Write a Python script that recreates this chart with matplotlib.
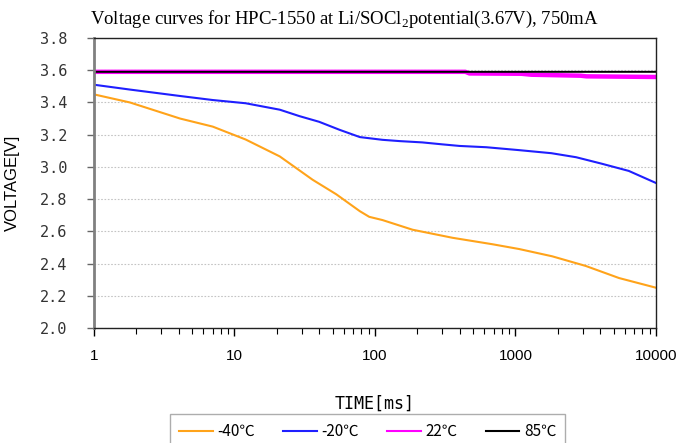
import matplotlib
matplotlib.use("Agg")
import matplotlib.pyplot as plt
from matplotlib.ticker import LogLocator, FixedLocator, NullFormatter

plt.rcParams["mathtext.fontset"] = "custom"
plt.rcParams["mathtext.rm"] = "Liberation Serif"

# --- data ---
t_m40 = [1, 1.8, 4.1, 7, 12, 21, 36, 53, 78, 91, 113, 185, 356, 684, 1064, 1825, 3165, 5460, 10000]
v_m40 = [3.45, 3.40, 3.30, 3.25, 3.17, 3.065, 2.92, 2.83, 2.725, 2.69, 2.67, 2.61, 2.56, 2.52, 2.49,
         2.445, 2.385, 2.31, 2.25]

t_m20 = [1, 1.8, 4.1, 7, 12, 21, 29, 40, 56, 78, 113, 150, 217, 300, 400, 620, 1060, 1800, 2700,
         4100, 6400, 10000]
v_m20 = [3.51, 3.48, 3.44, 3.415, 3.395, 3.355, 3.315, 3.28, 3.23, 3.185, 3.168, 3.16, 3.152, 3.14,
         3.13, 3.122, 3.104, 3.085, 3.06, 3.02, 2.975, 2.90]

t_22 = [1, 440, 470, 1100, 1300, 2900, 3200, 10000]
v_22 = [3.59, 3.59, 3.58, 3.578, 3.572, 3.566, 3.562, 3.558]

t_85 = [1, 10000]
v_85 = [3.59, 3.59]

labels = ["-40℃", "-20℃", "22℃", "85℃"]
y_ticks = [2.0, 2.2, 2.4, 2.6, 2.8, 3.0, 3.2, 3.4, 3.6, 3.8]
x_ticks = [1, 10, 100, 1000, 10000]

# --- figure ---
fig = plt.figure(figsize=(6.8, 4.43), dpi=100)
ax = fig.add_axes([94 / 680, 1 - 328 / 443, (656 - 94) / 680, (328 - 38) / 443])

ax.plot(t_m40, v_m40, color="#FFA31A", lw=1.5, label=labels[0])
ax.plot(t_m20, v_m20, color="#1F1FFF", lw=1.5, label=labels[1])
ax.plot(t_22, v_22, color="#FF00FF", lw=3.2, label=labels[2], snap=False)
ax.plot(t_85, v_85, color="black", lw=1.4, label=labels[3], snap=False)

ax.set_xscale("log")
ax.set_xlim(1, 10000)
ax.set_ylim(2.0, 3.8)

ax.xaxis.set_major_locator(FixedLocator(x_ticks))
ax.set_xticklabels([str(x) for x in x_ticks], family="Liberation Sans", fontsize=11)
ax.xaxis.set_minor_locator(LogLocator(base=10, subs=range(2, 10)))
ax.xaxis.set_minor_formatter(NullFormatter())
ax.tick_params(axis="x", which="major", direction="out", length=6, width=1, pad=9)
ax.tick_params(axis="x", which="minor", direction="out", length=4, width=0.8)

ax.set_yticks(y_ticks)
ax.set_yticklabels([f"{y:.1f}" for y in y_ticks], family="DejaVu Sans Mono", fontsize=11,
                   color="#333333")
ax.tick_params(axis="y", direction="out", length=5, width=1, pad=14, color="#666666")

ax.grid(axis="y", color="#c4c4c4", linestyle=(0, (1.5, 1.5)), lw=0.8)
ax.set_axisbelow(True)

ax.spines["left"].set_color("#808080")
ax.spines["left"].set_linewidth(2)
for s in ["top", "right", "bottom"]:
    ax.spines[s].set_color("#222222")
    ax.spines[s].set_linewidth(1)

ax.set_ylabel("VOLTAGE[V]", family="Liberation Sans", fontsize=12)
ax.yaxis.set_label_coords(-0.132, 0.5)
ax.set_xlabel("TIME[ms]", family="DejaVu Sans Mono", fontsize=12)
ax.xaxis.set_label_coords(0.5, -0.231)

fig.text(90 / 680, 1 - 19 / 443,
         r"Voltage curves for HPC-1550 at Li/SOCl$_\mathregular{2}$potential(3.67V), 750mA",
         family="Liberation Serif", fontsize=13.5, ha="left", va="center")

leg = fig.legend(loc="upper left", bbox_to_anchor=(170 / 680, 1 - 414 / 443), ncol=4,
                 frameon=True, fancybox=False, edgecolor="#999999", borderaxespad=0,
                 borderpad=0.6, handlelength=2.2, columnspacing=1.85, handletextpad=0.3,
                 prop={"family": ["Noto Sans CJK JP", "DejaVu Sans"], "size": 11})
leg.get_frame().set_linewidth(1)
for line in leg.get_lines():
    line.set_linewidth(1.5)

fig.savefig("out.png", dpi=100)
